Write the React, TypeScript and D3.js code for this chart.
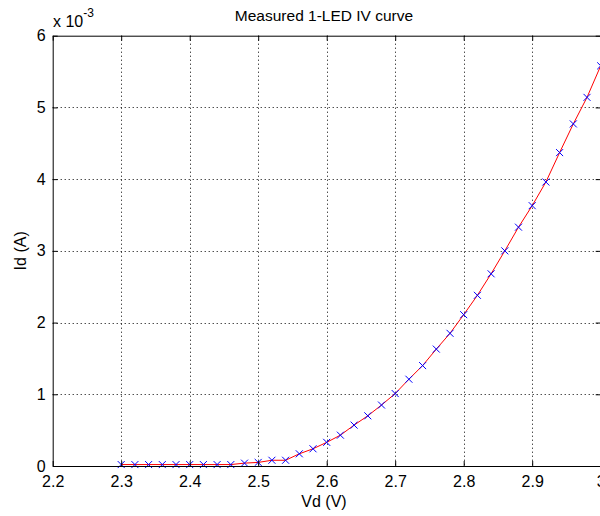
import React, { useEffect, useRef } from 'react';
import * as d3 from 'd3';

// measured points, voltage in V, current in mA (plotted with a x10^-3 axis)
const voltages = [
  2.30, 2.32, 2.34, 2.36, 2.38, 2.40, 2.42, 2.44, 2.46, 2.48,
  2.50, 2.52, 2.54, 2.56, 2.58, 2.60, 2.62, 2.64, 2.66, 2.68,
  2.70, 2.72, 2.74, 2.76, 2.78, 2.80, 2.82, 2.84, 2.86, 2.88,
  2.90, 2.92, 2.94, 2.96, 2.98, 3.00,
];
const currents = [
  0.02, 0.02, 0.02, 0.02, 0.02, 0.02, 0.02, 0.02, 0.02, 0.04,
  0.05, 0.08, 0.08, 0.17, 0.24, 0.33, 0.43, 0.57, 0.70, 0.85,
  1.01, 1.21, 1.40, 1.63, 1.85, 2.11, 2.38, 2.68, 3.00, 3.33,
  3.63, 3.96, 4.37, 4.77, 5.14, 5.58,
];
const xTicks = [2.2, 2.3, 2.4, 2.5, 2.6, 2.7, 2.8, 2.9, 3.0];
const yTicks = [0, 1, 2, 3, 4, 5, 6];

const WIDTH = 600;
const HEIGHT = 516;
const FONT = '"Liberation Sans", Arial, Helvetica, sans-serif';

const App = () => {
  const svgRef = useRef<SVGSVGElement>(null);

  useEffect(() => {
    const svg = d3.select(svgRef.current);
    svg.selectAll('*').remove();

    const left = 52.7;
    const right = 600.7;
    const top = 35.7;
    const bottom = 466;

    const x = d3.scaleLinear().domain([2.2, 3.0]).range([left, right]);
    const y = d3.scaleLinear().domain([0, 6]).range([bottom, top]);

    svg.append('rect').attr('width', WIDTH).attr('height', HEIGHT).attr('fill', '#fff');

    // dotted grid
    const grid = svg.append('g')
      .attr('stroke', '#000')
      .attr('stroke-width', 1)
      .attr('stroke-dasharray', '1,3');
    grid.selectAll('line.vx')
      .data(xTicks.slice(1, -1))
      .enter()
      .append('line')
      .attr('x1', d => Math.round(x(d)) + 0.5)
      .attr('x2', d => Math.round(x(d)) + 0.5)
      .attr('y1', top)
      .attr('y2', bottom);
    grid.selectAll('line.hy')
      .data(yTicks.slice(1, -1))
      .enter()
      .append('line')
      .attr('y1', d => Math.round(y(d)) + 0.5)
      .attr('y2', d => Math.round(y(d)) + 0.5)
      .attr('x1', left)
      .attr('x2', right);

    // data line and x markers
    const pts = voltages.map((v, i) => [v, currents[i]] as [number, number]);
    const line = d3.line<[number, number]>()
      .x(d => x(d[0]))
      .y(d => y(d[1]));
    svg.append('path')
      .datum(pts)
      .attr('d', line)
      .attr('fill', 'none')
      .attr('stroke', '#ff0000')
      .attr('stroke-width', 1);

    const m = 3.5;
    svg.append('g')
      .selectAll('path')
      .data(pts)
      .enter()
      .append('path')
      .attr('d', d => {
        const cx = x(d[0]);
        const cy = y(d[1]);
        return `M${cx - m},${cy - m}L${cx + m},${cy + m}M${cx - m},${cy + m}L${cx + m},${cy - m}`;
      })
      .attr('fill', 'none')
      .attr('stroke', '#0000ff')
      .attr('stroke-width', 1);

    // axes with inward ticks on all four sides
    const styleAxis = (g: d3.Selection<SVGGElement, unknown, null, undefined>) => {
      g.select('.domain').attr('stroke', '#000');
      g.selectAll('.tick line').attr('stroke', '#000');
      g.selectAll('.tick text')
        .attr('fill', '#000')
        .style('font-family', FONT)
        .style('font-size', '16px');
      g.attr('font-family', null).attr('font-size', null);
    };

    svg.append('g')
      .attr('transform', `translate(0,${bottom})`)
      .call(d3.axisBottom(x).tickValues(xTicks).tickSizeInner(-5).tickSizeOuter(0)
        .tickPadding(10).tickFormat(d => d3.format('~g')(d as number)))
      .call(styleAxis);

    svg.append('g')
      .attr('transform', `translate(0,${top})`)
      .call(d3.axisTop(x).tickValues(xTicks).tickSizeInner(-5).tickSizeOuter(0).tickFormat(() => ''))
      .call(styleAxis);

    svg.append('g')
      .attr('transform', `translate(${left},0)`)
      .call(d3.axisLeft(y).tickValues(yTicks).tickSizeInner(-5).tickSizeOuter(0)
        .tickPadding(7).tickFormat(d3.format('d')))
      .call(styleAxis);

    svg.append('g')
      .attr('transform', `translate(${right},0)`)
      .call(d3.axisRight(y).tickValues(yTicks).tickSizeInner(-5).tickSizeOuter(0).tickFormat(() => ''))
      .call(styleAxis);

    // labels
    const cx = 324;
    svg.append('text')
      .attr('x', cx)
      .attr('y', 21)
      .attr('text-anchor', 'middle')
      .style('font-family', FONT)
      .style('font-size', '15.5px')
      .text('Measured 1-LED IV curve');

    svg.append('text')
      .attr('x', cx)
      .attr('y', 507)
      .attr('text-anchor', 'middle')
      .style('font-family', FONT)
      .style('font-size', '16px')
      .text('Vd (V)');

    svg.append('text')
      .attr('transform', `translate(26,${(top + bottom) / 2}) rotate(-90)`)
      .attr('text-anchor', 'middle')
      .style('font-family', FONT)
      .style('font-size', '16px')
      .text('Id (A)');

    const exp = svg.append('text')
      .attr('x', 53)
      .attr('y', 27)
      .style('font-family', FONT)
      .style('font-size', '16px');
    exp.append('tspan').text('x 10');
    exp.append('tspan').attr('dy', -10).style('font-size', '12px').text('-3');
  }, []);

  return (
    <svg
      ref={svgRef}
      width={WIDTH}
      height={HEIGHT}
      style={{ position: 'absolute', left: 0, top: 0, display: 'block' }}
    />
  );
};

export default App;
